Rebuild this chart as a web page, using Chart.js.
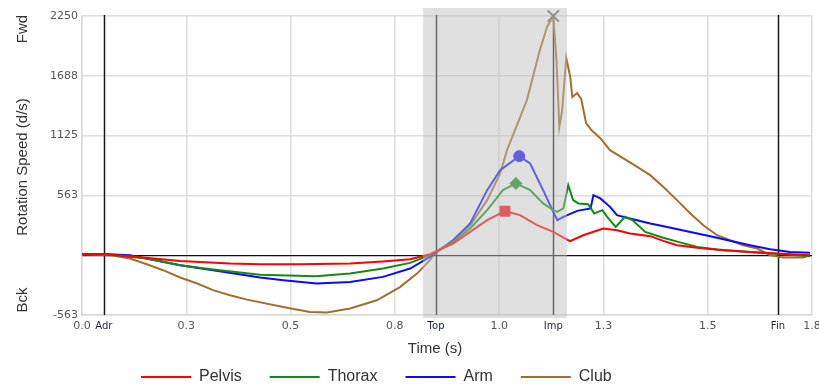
<!DOCTYPE html>
<html>
<head>
<meta charset="utf-8">
<script src="https://cdn.jsdelivr.net/npm/chart.js@4/dist/chart.umd.min.js"></script>
<style>
  html, body { margin: 0; padding: 0; background: #fff; }
  #wrap { width: 819px; height: 389px; }
</style>
</head>
<body>
<div id="wrap"><canvas id="chart" width="819" height="389"></canvas></div>
<script>
// Time axis (s)
const xTickValues = [0, 0.2571, 0.5143, 0.7714, 1.0286, 1.2857, 1.5429, 1.8];
const xTickLabels = ['0.0', '0.3', '0.5', '0.8', '1.0', '1.3', '1.5', '1.8'];
const eventNames = ['Adr', 'Top', 'Imp', 'Fin'];
const eventTimes = [0.054, 0.873, 1.162, 1.716];
const shadeRange = [0.841, 1.196];

// Rotation speed axis (d/s)
const yTickValues = [-562.5, 0, 562.5, 1125, 1687.5, 2250];
const yTickLabels = ['-563', '', '563', '1125', '1688', '2250'];

const seriesNames = ['Pelvis', 'Thorax', 'Arm', 'Club'];

const pelvisT = [0, 0.054, 0.118, 0.242, 0.365, 0.439, 0.538, 0.661, 0.742, 0.809, 0.858, 0.915, 0.957, 0.999, 1.043, 1.080, 1.122, 1.162, 1.185, 1.203, 1.236, 1.285, 1.319, 1.351, 1.401, 1.433, 1.467, 1.517, 1.581, 1.647, 1.714, 1.795];
const pelvisV = [9, 9, -9, -54, -78, -85, -85, -78, -59, -38, 9, 110, 219, 329, 414, 377, 282, 219, 170, 132, 188, 251, 235, 204, 179, 135, 94, 69, 47, 31, 16, 0];

const thoraxT = [0, 0.054, 0.160, 0.242, 0.323, 0.439, 0.577, 0.661, 0.742, 0.809, 0.858, 0.915, 0.957, 0.999, 1.038, 1.070, 1.105, 1.137, 1.162, 1.172, 1.187, 1.199, 1.211, 1.224, 1.248, 1.263, 1.283, 1.295, 1.316, 1.339, 1.357, 1.389, 1.431, 1.470, 1.517, 1.566, 1.647, 1.729, 1.795];
const thoraxV = [9, 9, -31, -94, -135, -185, -198, -172, -125, -72, 0, 125, 251, 424, 612, 675, 612, 487, 424, 408, 440, 659, 518, 487, 480, 393, 424, 361, 266, 361, 330, 219, 167, 125, 78, 54, 31, 9, -9];

const armT = [0, 0.054, 0.118, 0.242, 0.323, 0.439, 0.497, 0.579, 0.661, 0.742, 0.809, 0.858, 0.915, 0.957, 0.999, 1.031, 1.078, 1.105, 1.137, 1.162, 1.172, 1.187, 1.221, 1.254, 1.261, 1.278, 1.302, 1.319, 1.351, 1.401, 1.443, 1.500, 1.549, 1.598, 1.647, 1.697, 1.746, 1.795];
const armV = [12, 12, 0, -94, -141, -210, -235, -266, -251, -204, -125, -16, 141, 298, 612, 800, 932, 863, 612, 408, 330, 361, 417, 440, 565, 534, 455, 377, 346, 298, 266, 219, 179, 135, 94, 56, 31, 22];

const clubT = [0, 0.054, 0.076, 0.118, 0.160, 0.200, 0.242, 0.284, 0.323, 0.365, 0.407, 0.496, 0.562, 0.604, 0.661, 0.727, 0.784, 0.826, 0.858, 0.870, 0.915, 0.957, 0.999, 1.031, 1.048, 1.097, 1.129, 1.147, 1.162, 1.170, 1.177, 1.184, 1.194, 1.204, 1.209, 1.221, 1.231, 1.243, 1.256, 1.278, 1.302, 1.335, 1.369, 1.401, 1.433, 1.467, 1.500, 1.532, 1.566, 1.598, 1.630, 1.665, 1.697, 1.729, 1.778, 1.795];
const clubV = [9, 3, -3, -31, -85, -141, -210, -266, -329, -377, -418, -487, -534, -539, -502, -424, -300, -173, -47, 19, 141, 282, 518, 769, 988, 1459, 1930, 2149, 2250, 1836, 1205, 1365, 1855, 1676, 1487, 1525, 1469, 1243, 1177, 1101, 988, 910, 831, 753, 643, 518, 393, 282, 188, 141, 94, 63, 0, -22, -22, 0];

const colors = ['#ff0000', '#138a13', '#0a0aff', '#a0702f'];
const markers = ['rect', 'rectRot', 'circle', 'crossRot'];
const markerSizes = [7, 6, 5.5, 8];

const FONT = "'Liberation Sans', Arial, sans-serif";
const TICK_FONT = "'DejaVu Sans', Verdana, sans-serif";

function makeSeries(i, ts, vs) {
    const peak = vs.indexOf(Math.max(...vs));
    return {
        label: seriesNames[i],
        data: ts.map((t, k) => ({ x: t, y: vs[k] })),
        borderColor: colors[i],
        backgroundColor: i === 3 ? '#6f6458' : colors[i],
        borderWidth: 2,
        tension: 0,
        clip: 12,
        pointStyle: markers[i],
        pointRadius: ctx => ctx.dataIndex === peak ? markerSizes[i] : 0,
        pointHoverRadius: 0,
        pointBorderColor: i === 3 ? '#6f6458' : colors[i],
        pointBorderWidth: i === 3 ? 2 : 1
    };
}

// eventos, sombreado e textos extras
const extras = {
    id: 'extras',
    beforeDatasetsDraw(chart) {
        const { ctx, chartArea, scales } = chart;
        ctx.save();
        ctx.strokeStyle = '#1a1a1a';
        ctx.lineWidth = 1.5;
        eventTimes.forEach(t => {
            const x = Math.round(scales.x.getPixelForValue(t)) + 0.5;
            ctx.beginPath();
            ctx.moveTo(x, chartArea.top - 1);
            ctx.lineTo(x, chartArea.bottom);
            ctx.stroke();
        });
        ctx.restore();
    },
    afterDatasetsDraw(chart) {
        const { ctx, chartArea, scales } = chart;
        const x1 = scales.x.getPixelForValue(shadeRange[0]);
        const x2 = scales.x.getPixelForValue(shadeRange[1]);
        ctx.save();
        ctx.fillStyle = 'rgba(190, 190, 190, 0.48)';
        ctx.fillRect(x1, chartArea.top - 8, x2 - x1, chartArea.bottom - chartArea.top + 11);
        ctx.restore();
    },
    afterDraw(chart) {
        const { ctx } = chart;
        ctx.save();
        ctx.fillStyle = '#333';
        ctx.font = '15px ' + FONT;
        ctx.textAlign = 'center';
        ctx.textBaseline = 'middle';
        const vtext = (txt, x, y) => {
            ctx.save();
            ctx.translate(x, y);
            ctx.rotate(-Math.PI / 2);
            ctx.fillText(txt, 0, 0);
            ctx.restore();
        };
        vtext('Rotation Speed (d/s)', 23, 167);
        vtext('Fwd', 23, 29);
        vtext('Bck', 23, 300);
        ctx.fillText('Time (s)', 435, 349);

        // legenda
        ctx.font = '16px ' + FONT;
        ctx.textAlign = 'left';
        let x = 141;
        const y = 377;
        chart.data.datasets.forEach(ds => {
            ctx.strokeStyle = ds.borderColor;
            ctx.lineWidth = 2;
            ctx.beginPath();
            ctx.moveTo(x, y);
            ctx.lineTo(x + 50, y);
            ctx.stroke();
            ctx.fillStyle = '#333';
            ctx.fillText(ds.label, x + 58, y);
            x += 58 + ctx.measureText(ds.label).width + 28;
        });
        ctx.restore();
    }
};

const allXTicks = xTickValues.concat(eventTimes).sort((a, b) => a - b);

new Chart(document.getElementById('chart'), {
    type: 'line',
    data: {
        datasets: [
            makeSeries(0, pelvisT, pelvisV),
            makeSeries(1, thoraxT, thoraxV),
            makeSeries(2, armT, armV),
            makeSeries(3, clubT, clubV)
        ]
    },
    options: {
        responsive: false,
        animation: false,
        devicePixelRatio: 1,
        layout: { autoPadding: false, padding: { top: 16, right: 7, bottom: 0, left: 0 } },
        plugins: {
            legend: { display: false },
            tooltip: { enabled: false }
        },
        scales: {
            x: {
                type: 'linear',
                min: 0,
                max: 1.8,
                afterFit: s => { s.height = 74; s.paddingLeft = 0; s.paddingRight = 0; },
                afterBuildTicks: s => { s.ticks = allXTicks.map(v => ({ value: v })); },
                border: { color: '#d8d8d8', width: 1.5 },
                grid: {
                    drawTicks: false,
                    lineWidth: 1.5,
                    color: ctx => (ctx.tick && eventTimes.includes(ctx.tick.value)) ? 'rgba(0,0,0,0)' : '#dedede'
                },
                ticks: {
                    autoSkip: false,
                    maxRotation: 0,
                    padding: 5,
                    font: ctx => ({ family: TICK_FONT, size: (ctx.tick && eventTimes.includes(ctx.tick.value)) ? 10 : 11 }),
                    color: ctx => (ctx.tick && eventTimes.includes(ctx.tick.value)) ? '#1c2340' : '#555',
                    callback: value => {
                        const e = eventTimes.indexOf(value);
                        if (e >= 0) return eventNames[e];
                        const k = xTickValues.indexOf(value);
                        return k >= 0 ? xTickLabels[k] : '';
                    }
                }
            },
            y: {
                min: -562.5,
                max: 2250,
                afterFit: s => { s.width = 82; s.paddingTop = 0; s.paddingBottom = 0; },
                afterBuildTicks: s => { s.ticks = yTickValues.map(v => ({ value: v })); },
                border: { color: '#d8d8d8', width: 1.5 },
                grid: {
                    drawTicks: false,
                    lineWidth: ctx => (ctx.tick && ctx.tick.value === 0) ? 1.2 : 1.5,
                    color: ctx => (ctx.tick && ctx.tick.value === 0) ? '#111' : '#dedede'
                },
                ticks: {
                    padding: 4,
                    font: { family: TICK_FONT, size: 11 },
                    color: '#555',
                    callback: value => {
                        const k = yTickValues.indexOf(value);
                        return k >= 0 ? yTickLabels[k] : '';
                    }
                }
            }
        }
    },
    plugins: [extras]
});
</script>
</body>
</html>
